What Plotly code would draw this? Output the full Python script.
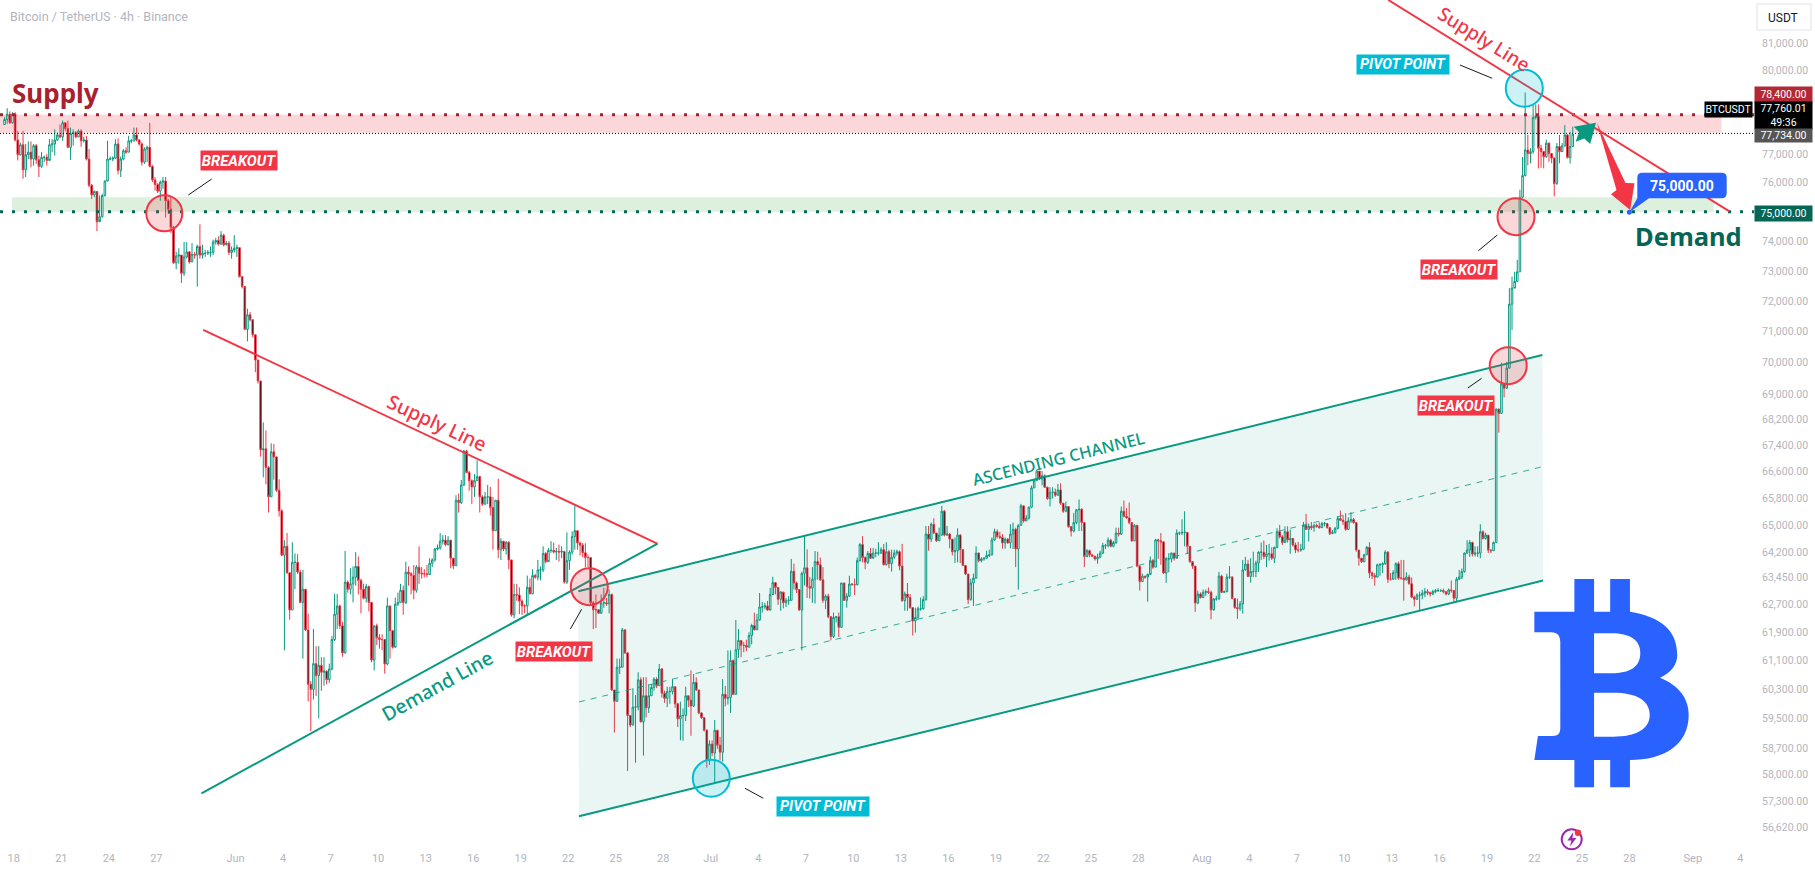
import re
import pandas as pd
import plotly.graph_objects as go

# ---------- data ----------
first_bar = "2024-05-17 10:00"
first_open = 78050
closes = [
78230,78420,78110,78430,77500,76980,77330,76450,76980,77070,76830,77300,76800,76570,76890,76890,76780,77330,77360,77500,
77680,77610,78110,77910,77240,77730,77760,77610,77820,77470,77500,76830,75910,75580,75700,74660,74830,75560,76060,76830,
76830,76860,77360,76430,76830,77120,77070,77470,77470,77680,77500,77360,76720,77180,77240,76570,76100,75940,75710,76020,
76060,75380,75090,74460,73270,73500,73530,72920,73470,73640,73300,73550,73530,73820,73530,73590,73590,73620,73620,73970,
74020,73900,74200,73880,73930,73620,73700,73760,73780,72810,72480,71080,71550,71390,70900,70090,69420,67270,67300,66730,
65840,67210,67050,66040,65420,64110,64370,63595,62525,63900,63900,63615,62740,63120,61955,60435,60295,61010,60680,60960,
60770,60800,60565,60860,61685,62405,62640,62075,61310,63325,63120,63275,63465,63780,63375,63120,62860,63195,62740,61110,
62075,61735,61685,61685,61000,62640,61935,61470,62690,62740,63090,62740,63615,63565,63515,63090,63760,63585,63565,63565,
63545,63870,63970,64290,64320,64520,64550,64420,64550,64020,63800,65740,65670,66200,67230,66580,66330,66140,66330,66450,
65840,65620,65840,65840,65520,64830,65740,64270,64520,64290,64490,63970,62385,62970,62950,62780,62640,62640,63175,62990,
63515,63465,63680,63680,64160,63920,64250,64250,64200,64220,64200,64220,63325,63950,64200,64660,64830,64470,64400,64180,
64040,64040,62730,62530,62530,62430,62730,62730,62700,62970,60280,59970,60910,60910,61960,61310,59580,59320,59810,59810,
60560,59410,60120,59790,60120,60350,60580,60400,60860,60190,60050,60240,60240,60370,59900,59490,59580,59580,60120,60000,
59840,60490,60280,59650,59520,59180,58370,58810,58570,59180,58780,58590,60160,60050,60070,61100,60160,61400,61660,61520,
61520,61470,61800,62080,61960,62240,62610,62610,62640,62520,62970,63310,63170,62830,63040,62730,62800,62800,63640,63300,
63110,62520,63580,63740,63200,63150,63410,63920,63830,63390,62800,62920,62330,61770,62310,62330,62030,63300,62800,62920,
63270,63250,63250,63950,64420,64040,63900,64160,64020,64170,64170,64170,64270,63830,64210,63860,64050,64170,64210,63790,
62790,62980,62880,62590,62210,62310,62560,62560,62820,64730,64580,65020,64760,64530,64700,65410,64700,64730,64580,64210,
64240,64700,64270,63810,63560,62820,63300,63440,64170,63950,64000,64020,64100,64120,64560,64800,64660,64630,64470,64580,
64470,64730,64870,64290,64990,65570,65120,65210,65530,66110,66330,66620,66380,66480,66130,65790,65980,65980,65890,66050,
65650,65410,65550,64950,64820,65070,65450,65470,65070,64070,64240,64120,64080,64000,64050,64170,64390,64390,64550,64370,
64480,64760,64730,65410,65260,65210,65070,64530,64990,63790,63340,63500,63470,63550,63950,63760,64560,64530,64500,63590,
64000,64000,64170,64020,64760,64760,64780,64780,64370,63920,63790,62720,62980,62880,63030,63050,63030,62530,62840,62840,
63500,63030,63050,63470,63470,62850,62590,62560,62700,63680,63850,63490,63630,63630,63880,64200,64200,64070,64150,64150,
64020,64340,64800,64650,64480,64800,64560,64600,64410,64260,64260,64280,64990,64870,64960,64920,64990,64960,64920,65040,
65040,64920,64750,64770,64900,65190,65140,65100,64870,65120,65160,65070,64260,64020,63920,64120,64340,63590,63510,63470,
63830,63830,63860,64200,63410,63410,63600,63860,63440,63440,63390,63470,63280,62890,62830,62950,62950,63000,63050,63020,
62980,63050,63080,63080,63080,63050,62980,63100,63080,62860,63410,63470,63630,64170,64260,64480,64140,64170,64170,64800,
64600,64700,64260,64240,64480,68530,68400,69330,69190,69830,71900,72430,72650,72970,75500,76250,77150,77020,77090,78300,
78350,77210,77090,76910,77390,77020,76860,75970,77270,77090,77290,77680,76880,77270,77710,
]
highs = [
78310,78630,78520,78490,78490,77820,77410,77820,77360,77450,77450,77360,77360,76950,77070,76950,77010,77530,77530,77880,
77760,78050,78190,78140,78190,77940,77880,77820,77880,77880,77610,77650,77180,75960,75730,75700,75560,75620,76080,77470,
76920,76920,77530,77560,76920,77180,77240,77650,77530,77940,77940,77530,77420,77240,77300,78110,76620,76200,75990,76080,
76200,76200,75440,75500,74520,73640,73760,73530,73970,73970,73640,73930,73640,73880,74570,73880,73710,73700,73820,74050,
74110,74160,74340,74250,74000,74000,73820,74200,73880,73780,72810,72440,71750,71640,71390,70900,70080,69420,68120,67870,
66770,67470,67450,67070,66370,65470,64550,64760,63595,64490,64160,64140,63680,63680,63120,62415,60525,61985,61500,61500,
61190,61190,60820,61010,61785,62980,62980,62680,62185,64230,63375,63730,63780,64200,64070,63425,63275,63275,63225,62740,
62075,62135,61835,61835,61685,62880,62640,61935,62880,63020,63275,63225,63920,63780,63615,63820,63820,64370,63760,63700,
63820,64020,64020,64320,64420,64760,64700,64700,64670,64550,64020,65890,65940,66350,67270,67270,66630,66370,66530,66950,
66480,65890,65990,66200,66140,65840,65740,66390,64610,64520,64520,64520,63970,63275,63275,63175,62830,62690,63515,63425,
63700,63565,63970,63780,64370,64200,64320,64520,64480,64320,64420,64370,64220,64780,64250,64810,65580,64830,64500,64470,
64460,64130,64040,62780,62970,62550,62970,63160,62870,63110,62990,60280,61150,61150,62010,61960,61330,59580,60330,60140,
60770,60630,60630,60630,60440,60440,60630,60630,61000,60890,60260,60370,60370,60580,60370,59930,59960,59770,60370,60070,
60820,60720,60630,60280,59670,59510,59210,58910,58910,59460,59180,59000,60580,60390,61380,61380,61120,62240,61980,61660,
61620,61680,61890,62130,62450,62410,63010,62750,62730,62780,63160,63480,63320,63180,63060,63010,62870,62920,64000,63860,
63340,63110,63630,64700,64280,63480,63760,64230,64210,64040,63760,62970,62990,62350,62450,62350,62450,63300,63300,63010,
63510,63300,63430,64040,64470,64670,64070,64230,64320,64320,64300,64490,64340,64440,64490,64270,64270,64270,64270,64250,
64440,63050,63300,62980,62590,62590,62620,62880,62920,64970,64970,65070,65200,64760,64920,65570,65450,64970,64760,64580,
64630,64900,64730,64290,63820,63560,63420,63570,64370,64190,64050,64050,64240,64270,64630,64890,64870,64800,64730,64630,
64610,65020,65070,64920,65020,65630,65570,65300,65550,66180,66380,66670,66620,66620,66520,66150,66130,66130,66090,66230,
66250,65650,65700,65550,64970,65360,65470,65760,65500,65090,64290,64270,64150,64080,64150,64240,64470,64440,64630,64590,
64530,64920,64920,65550,65730,65500,65670,65020,65020,64990,63790,63570,63500,63570,64070,64000,64590,64590,64760,64500,
64050,64170,64190,64170,64870,64800,65170,65410,64780,64370,63880,63790,63080,63030,63110,63110,63170,63080,62860,62930,
63620,63540,63080,63570,63790,63500,62850,62850,62780,63970,64060,63970,64020,64210,63950,64220,64480,64540,64410,64440,
64340,64360,64900,65000,64700,64960,64960,64860,64600,64480,64500,64440,65090,65330,65040,65090,65040,65040,65080,65090,
65090,65060,64940,64850,64940,65260,65430,65300,65350,65230,65380,65210,65060,64260,64020,64150,64380,64490,63630,63590,
63860,63880,63900,64250,64220,63590,63670,63900,63920,63970,63970,63610,63540,63460,62930,63000,63050,63100,63150,63120,
63050,63100,63120,63150,63120,63140,63050,63140,63370,63100,63470,63680,63720,64190,64550,64550,64510,64370,64370,65020,
64840,64770,64690,64280,64510,68560,68560,70000,69330,70030,72430,72810,72970,73370,75760,76900,79200,77680,77210,78770,
78770,78770,77330,77090,77510,77410,77020,76900,77390,77680,77390,78030,77710,77790,77970,
]
lows = [
78050,78080,78080,78080,77450,76780,76950,76140,76200,76830,76540,76600,76660,76200,76520,76720,76600,76830,77070,76950,
77470,77560,77470,77820,77220,76800,77300,77560,77610,77260,77410,76780,75850,75440,75500,74340,74750,74800,75520,76080,
76780,76750,76830,76290,76200,76780,77010,77070,77380,77450,77450,77300,76600,76660,76720,76540,76020,75730,75640,75380,
75790,74800,74920,74280,73240,73060,73240,72600,72830,73410,73240,73300,73410,72480,73410,73410,73470,73530,73470,73530,
73880,73850,73880,73820,73850,73530,73410,73620,73470,72780,72420,71050,70690,71330,70820,69700,69340,67060,66430,66220,
65370,65840,66360,65990,65250,64080,61380,63565,62245,62525,63120,63565,62720,61150,61925,59965,59155,60015,60115,59505,
60255,60395,60435,60475,60820,61645,61985,61985,61200,61290,63020,62970,62740,63225,62970,62425,62830,62740,62485,61050,
60820,61530,61430,61390,60730,60960,61150,61430,61490,62640,62740,62385,62690,63225,62970,62830,63020,63275,63425,63465,
63465,63565,63760,63920,64250,64270,64420,64370,64390,63730,63700,63800,65370,65620,66170,66550,66020,65620,65840,66330,
65370,65570,65620,65620,65280,64270,64830,64020,63970,64230,64130,63700,62335,62285,62790,62405,62385,62435,62385,62970,
62970,63425,63375,63375,63615,63870,63970,64180,64160,63970,63920,64020,63275,63275,63680,64130,64270,64270,64100,64050,
63760,63760,62690,61980,62010,62410,62430,62590,62640,62430,60250,59120,59950,60720,60910,61280,58090,59270,59320,58310,
59720,59390,58500,59530,59650,60120,60260,60330,60400,60070,59930,59810,59900,60160,59790,59270,58910,58900,59430,59810,
59030,59810,60250,59620,59490,59150,58180,58250,58480,57780,58680,58370,58340,59830,59880,59650,60140,60160,61170,61190,
61330,61360,61470,61550,61940,61960,62220,62450,62540,62500,62540,62950,62970,62670,62500,62570,62610,62670,62800,63110,
63010,62500,61380,63230,62870,62850,62730,62710,63390,63360,62730,62550,62290,61660,61730,62170,61750,62030,62790,62590,
62900,63230,62950,63230,63920,63900,63700,63850,64000,64050,64050,64100,64150,63810,63810,63730,63630,64000,64100,63670,
62760,62500,62500,62560,61800,61880,62270,62500,62530,62790,64240,64490,64730,64500,64530,64680,64660,64680,64310,64100,
63880,63900,63880,63790,63530,62690,62790,62640,63420,63900,63900,63950,64020,64050,64100,64530,64600,64580,64300,64300,
64440,64310,64290,63760,63110,64990,65070,65120,65160,65500,66110,66330,66350,66190,66110,65750,65550,65790,65840,65870,
65600,65360,65380,64920,64660,64780,65020,64820,64820,63760,64050,64050,64050,63950,63860,64020,64140,64290,64340,64340,
64340,64440,64660,64700,65230,65190,65020,64500,64530,63760,63080,63340,63420,62760,63590,63710,63760,64000,63830,63560,
63300,63610,63900,63950,64050,64700,64700,64370,64150,63880,63710,62470,62690,62850,62880,62930,62980,62260,62500,62790,
62820,63010,63010,63030,63420,62830,62560,62270,62500,62420,63660,63470,63310,63470,63470,63620,63970,63990,63760,63950,
63970,63880,64310,64600,64410,64560,64480,64150,64360,64170,64190,64210,64280,64850,64510,64850,64800,64920,64890,64920,
64960,64890,64700,64730,64750,64870,65120,65000,64830,64850,65060,65040,64210,63800,63880,63900,64120,63440,63410,63220,
63470,63510,63590,63830,63300,63370,63390,63390,63390,63390,62790,63370,63250,62860,62630,62810,62520,62830,62890,62950,
62910,62950,63000,63040,63040,63000,62940,62950,63020,62720,62760,63390,63410,63600,64150,64060,64070,64070,64060,64020,
64570,64570,64170,64170,64240,64480,67800,68400,68900,69170,69810,71050,72460,72650,72970,75460,76220,76610,76680,77020,
78230,76500,76520,76500,76880,76730,76680,75530,75930,76680,77090,77270,76850,76670,77270,
]
opens = [first_open] + closes[:-1]
bar_times = pd.date_range(first_bar, periods=len(closes), freq="4h")

x_tick_dates = ["2024-05-18","2024-05-21","2024-05-24","2024-05-27","2024-06-01","2024-06-04","2024-06-07","2024-06-10",
    "2024-06-13","2024-06-16","2024-06-19","2024-06-22","2024-06-25","2024-06-28","2024-07-01","2024-07-04","2024-07-07",
    "2024-07-10","2024-07-13","2024-07-16","2024-07-19","2024-07-22","2024-07-25","2024-07-28","2024-08-01","2024-08-04",
    "2024-08-07","2024-08-10","2024-08-13","2024-08-16","2024-08-19","2024-08-22","2024-08-25","2024-08-28","2024-09-01","2024-09-04"]
x_tick_text = ["18","21","24","27","Jun","4","7","10","13","16","19","22","25","28","Jul","4","7","10","13","16","19","22",
    "25","28","Aug","4","7","10","13","16","19","22","25","28","Sep","4"]
y_ticks = [81000,80000,77000,76000,74000,73000,72000,71000,70000,69000,68200,67400,66600,65800,65000,64200,63450,62700,
    61900,61100,60300,59500,58700,58000,57300,56620]

supply_level, demand_level, last_level = 78400, 75000, 77734
zone_top_low, zone_bottom_high = 77760, 75500
span_start, span_end = "2024-05-17 03:05", "2024-09-04 20:40"

top_supply_x = ["2024-08-12 18:30","2024-09-03 07:30"];  top_supply_y = [82620,75010]
tri_supply_x = ["2024-05-29 23:00","2024-06-27 15:00"];  tri_supply_y = [71060,64450]
tri_demand_x = ["2024-05-29 20:25","2024-06-27 15:30"];  tri_demand_y = [57500,64450]
chan_top_x   = ["2024-06-22 15:20","2024-08-22 12:00"];  chan_top_y = [63060,70250]
chan_low_x   = ["2024-06-22 16:20","2024-08-22 13:00"];  chan_low_y = [56900,63370]
chan_mid_x   = ["2024-06-22 16:20","2024-08-22 11:30"];  chan_mid_y = [59950,66750]

# ---------- page geometry ----------
W, H, RM, BM = 1815, 878, 61, 28
PW, PH = W - RM, H - BM
def fx(px): return px / PW
def fy(py): return 1 - py / PH
def path(s, sx=lambda v: v):
    return re.sub(r"(-?[\d.]+),(-?[\d.]+)", lambda m: f"{fx(sx(float(m[1]))):.5f},{fy(float(m[2])):.5f}", s)

RED, GRN, CYAN, BLUE = "#f23645", "#089981", "#00bcd4", "#2962ff"
DRED, DGRN, GREY = "#a8212f", "#056656", "#b2b5be"
FONT = "Roboto"

fig = go.Figure()
# channel fill
fig.add_trace(go.Scatter(x=[chan_top_x[0],chan_top_x[1],chan_low_x[1],chan_low_x[0]],
    y=[chan_top_y[0],chan_top_y[1],chan_low_y[1],chan_low_y[0]], fill="toself", mode="none",
    fillcolor="rgba(8,153,129,0.09)", hoverinfo="skip"))
# levels
for yv, col in [(supply_level, DRED), (demand_level, DGRN)]:
    fig.add_trace(go.Scatter(x=[span_start, span_end], y=[yv, yv], mode="lines",
        line=dict(color=col, width=3, dash="3px,9px"), hoverinfo="skip"))
fig.add_trace(go.Scatter(x=[span_start, span_end], y=[last_level, last_level], mode="lines",
    line=dict(color="#000000", width=1, dash="1px,2px"), hoverinfo="skip"))
# candles
fig.add_trace(go.Candlestick(x=bar_times, open=opens, high=highs, low=lows, close=closes,
    increasing=dict(line=dict(color=GRN, width=1), fillcolor="#ffffff"),
    decreasing=dict(line=dict(color=RED, width=1), fillcolor="#000000"), whiskerwidth=0))
# trend lines
for xs, ys, col in [(top_supply_x, top_supply_y, RED), (tri_supply_x, tri_supply_y, RED),
                    (tri_demand_x, tri_demand_y, GRN), (chan_top_x, chan_top_y, GRN), (chan_low_x, chan_low_y, GRN)]:
    fig.add_trace(go.Scatter(x=xs, y=ys, mode="lines", line=dict(color=col, width=2), hoverinfo="skip"))
fig.add_trace(go.Scatter(x=chan_mid_x, y=chan_mid_y, mode="lines",
    line=dict(color=GRN, width=1, dash="6px,6px"), opacity=0.8, hoverinfo="skip"))

shapes = []
def poly(s, fill, sx=lambda v: v, **kw):
    shapes.append(dict(type="path", xref="paper", yref="paper", path=path(s, sx), fillcolor=fill, line=dict(width=0), **kw))
def seg(x0, y0, x1, y1, col="#131722", w=1):
    shapes.append(dict(type="line", xref="paper", yref="paper", x0=fx(x0), y0=fy(y0), x1=fx(x1), y1=fy(y1), line=dict(color=col, width=w)))
def circ(cx, cy, r, col, fill):
    shapes.append(dict(type="circle", xref="paper", yref="paper", x0=fx(cx-r), x1=fx(cx+r), y0=fy(cy+r), y1=fy(cy-r),
        line=dict(color=col, width=2), fillcolor=fill))

# zones (price-anchored)
shapes.append(dict(type="rect", xref="x", yref="y", x0=span_start, x1="2024-09-02 19:20", y0=zone_top_low, y1=supply_level,
    fillcolor="rgba(242,54,69,0.2)", line=dict(width=0), layer="below"))
shapes.append(dict(type="rect", xref="x", yref="y", x0="2024-05-17 21:20", x1="2024-09-02 07:40", y0=demand_level, y1=zone_bottom_high,
    fillcolor="rgba(76,175,80,0.19)", line=dict(width=0), layer="below"))

for c in [(164.3,213.3,18,RED,"rgba(242,54,69,0.2)"), (589.3,586.7,18.5,RED,"rgba(242,54,69,0.2)"),
          (1516,216.7,18.5,RED,"rgba(242,54,69,0.2)"), (1508.2,365.7,18.5,RED,"rgba(242,54,69,0.2)"),
          (711.3,778.3,18.5,CYAN,"rgba(0,188,212,0.2)"), (1524.3,88.3,18.5,CYAN,"rgba(0,188,212,0.2)")]:
    circ(*c)
for s in [(188.3,195,211.7,179),(570.4,629,581.6,609.3),(745,788.3,763.3,798.3),(1460,65,1492.2,78.3),
          (1478.4,250.7,1497.3,235),(1467.8,388,1481.6,378.3)]:
    seg(*s)

# arrows
poly("M1596.9,122.7 L1625.5,183 L1634.5,183.3 L1630.2,210 L1611,194.3 L1616.5,190 Z", RED)
poly("M1596,122.7 L1573.7,126.7 L1579,132 L1575.7,141.7 L1584.3,138.5 L1590.2,144 Z", GRN)
# callout
poly("M1642.3,172.7 L1721.7,172.7 Q1726.7,172.7 1726.7,177.7 L1726.7,193.3 Q1726.7,198.3 1721.7,198.3 L1649,198.3 L1629.4,212.3 L1637.3,198.3 "
     "L1637.3,177.7 Q1637.3,172.7 1642.3,172.7 Z", BLUE)
circ(1629.4,212.3,1.5,BLUE,BLUE)
# bitcoin mark
poly("M1578,579 L1597.8,579 L1597.8,611.7 L1614,611.7 L1614,579 L1633.9,579 L1633.9,611.7 "
     "C1665,617 1681.5,630 1681.5,655 C1681.5,665 1675,673 1664.2,677.7 C1682,685 1693,697 1693,715 "
     "C1693,745 1668,760 1633.9,760 L1633.9,787.3 L1614,787.3 L1614,760 L1597.8,760 L1597.8,787.3 L1578,787.3 L1578,760 "
     "L1537.7,760 L1541.3,736 L1556,736 C1562,736 1563.8,733 1563.8,728 L1563.8,642 C1563.8,636 1561,632.3 1555,632.3 "
     "L1537.7,632.3 L1537.7,611.7 L1578,611.7 Z "
     "M1597.8,633.3 L1597.8,673.3 L1615,673.3 C1634,673.3 1644.3,667 1644.3,653 C1644.3,640 1634,633.3 1615,633.3 Z "
     "M1597.8,692.7 L1597.8,736.7 L1617,736.7 C1640,736.7 1653.8,729 1653.8,715 C1653.8,700 1640,692.7 1617,692.7 Z",
     BLUE, sx=lambda v: 1000 + (v - 1000) * 0.99376, fillrule="evenodd")
# sponsor icon
circ(1571.7,839.3,10,"#9c27b0","rgba(255,255,255,0)")
poly("M1573.4,832 L1567.4,840.5 L1571.4,840.5 L1569.9,846.5 L1576.4,838 L1572.4,838 Z", "#9c27b0")
circ(1578,832.7,2.2,RED,RED)
# USDT box
shapes.append(dict(type="rect", xref="paper", yref="paper", x0=fx(1757), x1=fx(1811), y0=fy(30), y1=fy(4),
    line=dict(color="#e0e3eb", width=1), fillcolor="#ffffff"))

ann = []
def txt(s, px, py, size, col, angle=0, xa="center", family=FONT, weight=None, **kw):
    f = dict(family=family, size=size, color=col)
    if weight: f["weight"] = weight
    ann.append(dict(text=s, xref="paper", yref="paper", x=fx(px), y=fy(py), showarrow=False, xanchor=xa, yanchor="middle",
        textangle=angle, font=f, **kw))
def tag(s, cx, cy, w, h, bg, size):
    ann.append(dict(text=f"<b><i>{s}</i></b>", xref="paper", yref="paper", x=fx(cx), y=fy(cy), showarrow=False,
        xanchor="center", yanchor="middle", width=w, height=h, bgcolor=bg, borderpad=0, align="center",
        font=dict(family=FONT, size=size, color="#ffffff")))

txt("Bitcoin / TetherUS · 4h · Binance", 8, 16.7, 12.5, GREY, xa="left")
txt("USDT", 1783.5, 17.5, 12, "#131722")
txt("<b>Supply</b>", 10, 93, 26, DRED, xa="left", family="Noto Sans")
txt("<b>Demand</b>", 1633, 236, 25.5, DGRN, xa="left", family="Noto Sans")
txt("Supply Line", 1484, 39, 19, RED, angle=32, family="Noto Sans", weight=500)
txt("Supply Line", 437, 422, 19.5, RED, angle=25, family="Noto Sans", weight=500)
txt("Demand Line", 437, 685, 19.5, GRN, angle=-29, family="Noto Sans", weight=500)
txt("ASCENDING CHANNEL", 1058, 458, 16.5, GRN, angle=-14, family="Noto Sans", weight=500)
txt("<b>75,000.00</b>", 1682, 185.5, 14, "#ffffff")
for c in [(239,160.5),(554,651.5),(1458.6,269.5),(1456,405.5)]:
    tag("BREAKOUT", c[0], c[1], 76, 19, RED, 14.8)
for c in [(1403,64.5),(823,806.5)]:
    tag("PIVOT POINT", c[0], c[1], 92, 19, CYAN, 14.5)

def ytag(s, py, h, bg, col="#ffffff"):
    ann.append(dict(text=s, xref="paper", yref="paper", x=1, y=fy(py), xanchor="left", yanchor="middle", showarrow=False,
        width=57, height=h, bgcolor=bg, borderpad=0, align="center", font=dict(family=FONT, size=10.5, color=col)))
ytag("78,400.00", 94.5, 15, "#b22833")
ytag("77,760.01<br>49:36", 115.5, 27, "#000000")
ytag("77,734.00", 135.5, 13, "#555555")
ytag("75,000.00", 213.5, 15, DGRN)
ann.append(dict(text="BTCUSDT", xref="paper", yref="paper", x=fx(1728.6), y=fy(109.5), xanchor="center", yanchor="middle",
    showarrow=False, width=47, height=15, bgcolor="#000000", borderpad=0, font=dict(family=FONT, size=10.5, color="#ffffff")))

fig.update_layout(
    width=W, height=H, margin=dict(l=0, r=RM, t=0, b=BM), paper_bgcolor="#ffffff", plot_bgcolor="#ffffff",
    showlegend=False, shapes=shapes, annotations=ann, boxgap=0.15, hovermode=False,
    xaxis=dict(type="date", range=[span_start, span_end], rangeslider=dict(visible=False), showgrid=False, zeroline=False,
        showline=False, ticks="", tickvals=x_tick_dates, ticktext=x_tick_text, tickfont=dict(family=FONT, size=11, color=GREY)),
    yaxis=dict(type="log", range=[4.74842, 4.91708], side="right", showgrid=False, zeroline=False, showline=False, ticks="",
        tickvals=y_ticks, ticktext=[f"{v:,.2f}" for v in y_ticks], ticklabelstandoff=7,
        tickfont=dict(family=FONT, size=10.5, color=GREY)),
)
fig.write_html("out.html", config=dict(displayModeBar=False),
    post_script="document.body.style.margin='0';document.documentElement.style.overflow='hidden';")
